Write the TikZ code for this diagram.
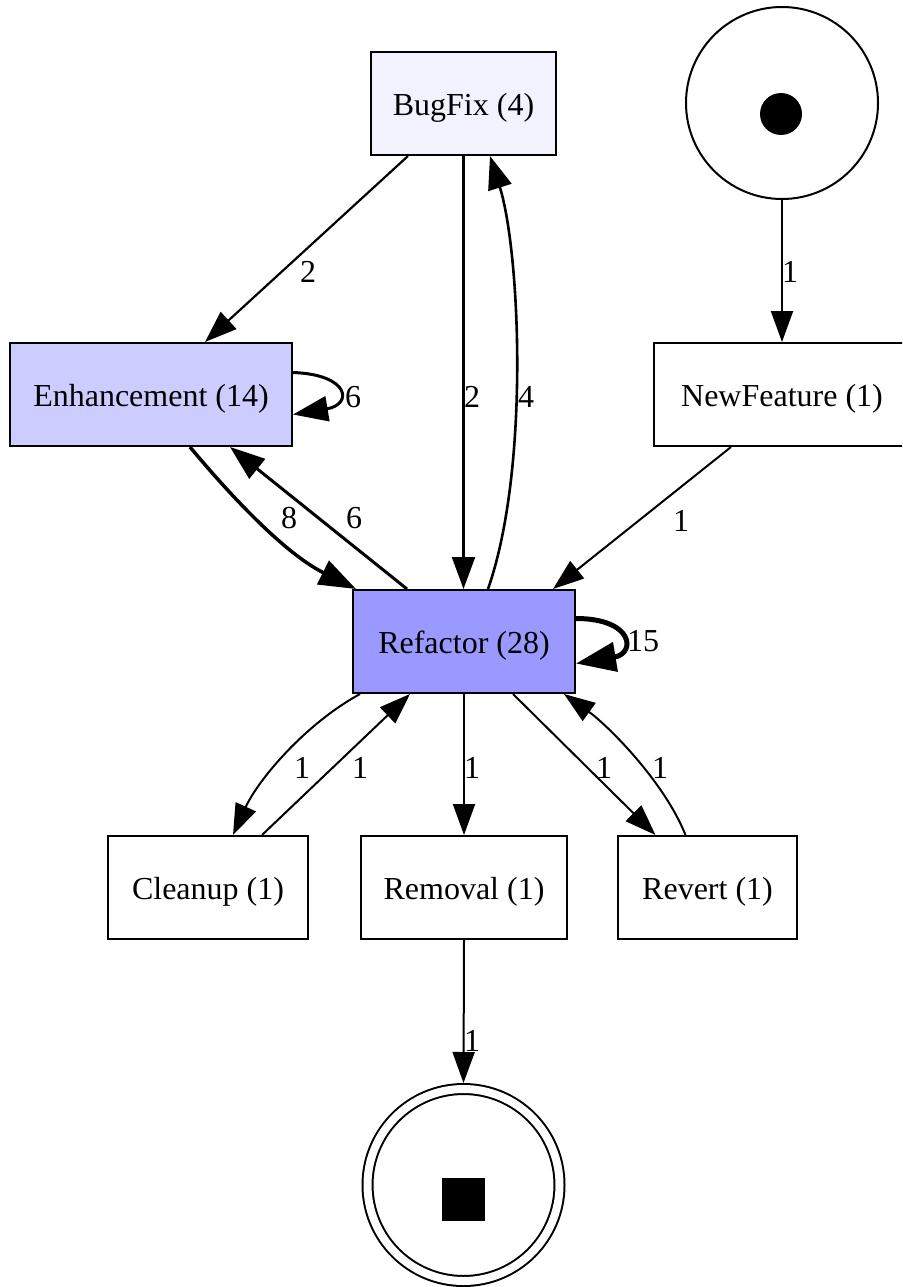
\documentclass[tikz,border=0pt]{standalone}
\usepackage{fontspec}
\setmainfont{Liberation Serif}
\usetikzlibrary{arrows.meta,calc}
\definecolor{bugfill}{RGB}{242,242,255}
\definecolor{enhfill}{RGB}{204,204,255}
\definecolor{reffill}{RGB}{153,153,255}
\begin{document}
\begin{tikzpicture}[x=1pt,y=-1pt,
  every node/.style={font=\fontsize{32}{38}\selectfont},
  box/.style={draw, line width=2pt, rectangle, minimum height=103pt, inner sep=0pt,
              text height=31pt, text depth=7pt},
  place/.style={draw, line width=2pt, circle, inner sep=0pt},
  lbl/.style={inner sep=0pt},
  arc1/.style={line width=2pt, -{Triangle[length=31pt,width=22pt]}},
  arc2/.style={line width=2.2pt, -{Triangle[length=32pt,width=23pt]}},
  arc4/.style={line width=2.6pt, -{Triangle[length=33pt,width=24pt]}},
  arc6/.style={line width=3pt, -{Triangle[length=35pt,width=25pt]}},
  arc8/.style={line width=3.5pt, -{Triangle[length=37pt,width=26pt]}},
  arc15/.style={line width=5pt, -{Triangle[length=40pt,width=29pt]}},
]
\clip (0,0) rectangle (902,1287);

% places
\node[place, minimum size=192pt] (st) at (782,103) {};
\node[circle, fill=black, inner sep=0pt, minimum size=42pt] (stdot) at (781,114) {};
\node[place, double, double distance=8pt, minimum size=192pt, outer sep=6pt] (fin) at (463.5,1185) {};
\node[rectangle, fill=black, inner sep=0pt, minimum size=43pt] (finsq) at (463.5,1199.5) {};

% transitions
\node[box, fill=bugfill, minimum width=185pt] (bf) at (463.5,103.5) {BugFix (4)};
\node[box, fill=enhfill, minimum width=282pt] (en) at (151,394.5) {Enhancement (14)};
\node[box, fill=white, minimum width=256pt] (nf) at (782,394.5) {NewFeature (1)};
\node[box, fill=reffill, minimum width=222pt] (rf) at (464,641.5) {Refactor (28)};
\node[box, fill=white, minimum width=200pt] (cl) at (208,887.5) {Cleanup (1)};
\node[box, fill=white, minimum width=206pt] (rm) at (464,887.5) {Removal (1)};
\node[box, fill=white, minimum width=179pt] (rv) at (707.5,887.5) {Revert (1)};

% arcs
\draw[arc2] ([xshift=-55.5pt]bf.south) -- ([xshift=54pt]en.north);
\draw[arc2] (bf.south) -- (bf.south |- rf.north);
\draw[arc4] ([xshift=24pt]rf.north) .. controls +(42,-120) and +(30,95) .. ([xshift=26.5pt]bf.south);
\draw[arc1] (st.south) -- (nf.north);
\draw[arc1] ([xshift=-51pt]nf.south) -- ([xshift=89pt]rf.north);
\draw[arc6] ([yshift=22pt]en.east) .. controls +(57,2) and +(60,-10) .. ([yshift=-20pt]en.east);
\draw[arc8] ([xshift=39pt]en.south) .. controls +(30,36) and +(-76,-38) .. ([xshift=-108pt]rf.north);
\draw[arc6] ([xshift=-57pt]rf.north) -- ([xshift=79pt]en.south);
\draw[arc15] ([yshift=23pt]rf.east) .. controls +(58,0) and +(60,-10) .. ([yshift=-22pt]rf.east);
\draw[arc1] ([xshift=-104pt]rf.south) .. controls +(-55,30) and +(25,-55) .. ([xshift=25pt]cl.north);
\draw[arc1] ([xshift=54pt]cl.north) -- ([xshift=-54pt]rf.south);
\draw[arc1] (rf.south) -- (rm.north);
\draw[arc1] ([xshift=49pt]rf.south) -- ([xshift=-52pt]rv.north);
\draw[arc1] ([xshift=-22pt]rv.north) .. controls +(-22,-55) and +(42,30) .. ([xshift=100pt]rf.south);
\draw[arc1] (rm.south) -- (fin.north);

% arc weights
\node[lbl] (w1) at (308,272) {2};
\node[lbl] (w2) at (472,397) {2};
\node[lbl] (w3) at (526,397) {4};
\node[lbl] (w4) at (790,272) {1};
\node[lbl] (w5) at (681,521) {1};
\node[lbl] (w6) at (353,397) {6};
\node[lbl] (w7) at (289,518) {8};
\node[lbl] (w8) at (354,518) {6};
\node[lbl] (w9) at (643,641) {15};
\node[lbl] (w10) at (302,768) {1};
\node[lbl] (w11) at (360,768) {1};
\node[lbl] (w12) at (472,768) {1};
\node[lbl] (w13) at (604,768) {1};
\node[lbl] (w14) at (660,768) {1};
\node[lbl] (w15) at (472,1041) {1};
\end{tikzpicture}
\end{document}
